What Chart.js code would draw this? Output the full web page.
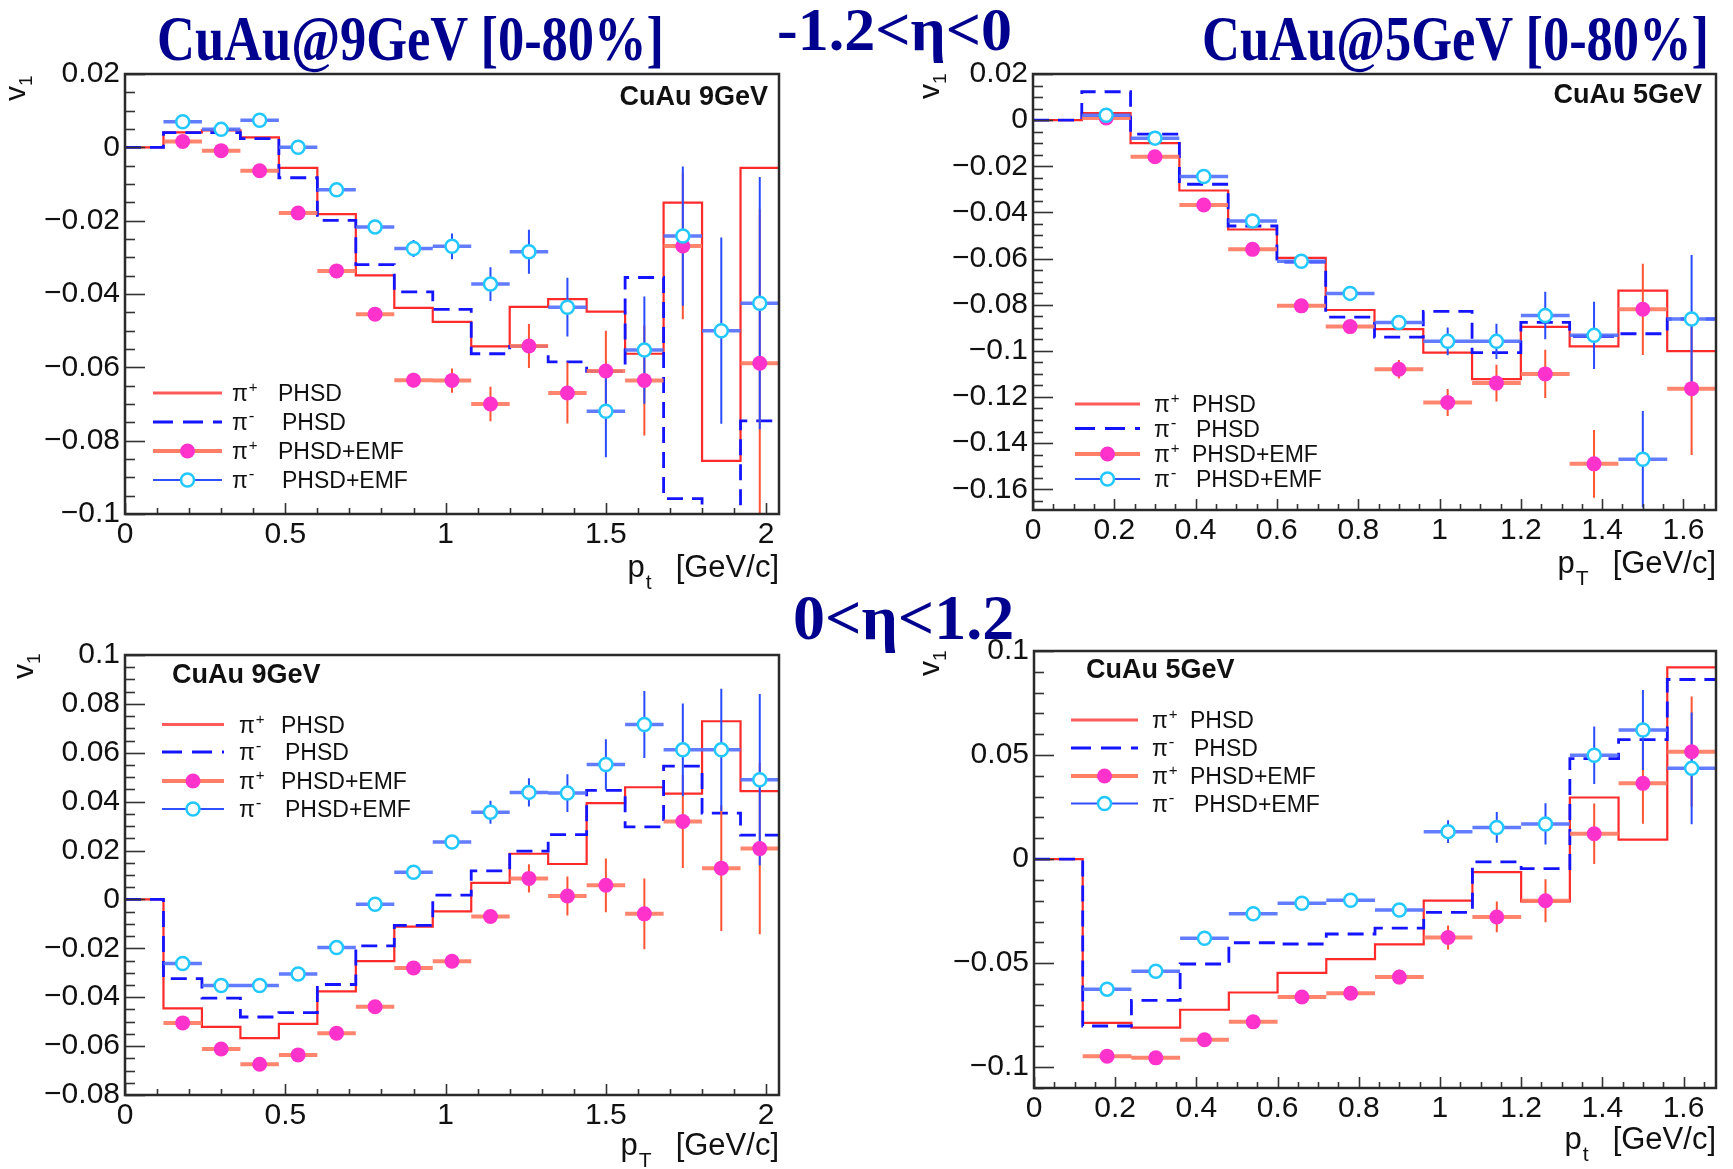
<!DOCTYPE html>
<html>
<head>
<meta charset="utf-8">
<script src="https://cdn.jsdelivr.net/npm/chart.js@4.4.1/dist/chart.umd.min.js"></script>
<style>
  html, body { margin: 0; padding: 0; background: #fff; }
  body { width: 1733px; height: 1169px; position: relative; overflow: hidden;
         font-family: "Liberation Sans", Arial, sans-serif; color: #111; }
  canvas.panel { position: absolute; }
  .title { position: absolute; font-family: "Liberation Serif", "Times New Roman", serif;
           font-weight: bold; color: #00008f; white-space: nowrap; line-height: 1;
           transform-origin: 0 0; z-index: 5; }
  .vlab { position: absolute; font-size: 30px; line-height: 1; white-space: nowrap;
          transform-origin: 0 0; transform: rotate(-90deg); z-index: 5; }
  .vlab .sub { font-size: 19px; position: relative; top: 7px; }
  .xlab { position: absolute; font-size: 31px; line-height: 1; white-space: nowrap; z-index: 5; }
  .xlab .sub { font-size: 21px; position: relative; top: 12px; margin-left: 1px; }
  .xlab .unit { margin-left: 24px; }
  .tag { position: absolute; font-weight: bold; font-size: 27px; line-height: 1;
         white-space: nowrap; z-index: 5; }
</style>
</head>
<body>

<canvas id="bwd9" class="panel"></canvas>
<canvas id="bwd5" class="panel"></canvas>
<canvas id="fwd9" class="panel"></canvas>
<canvas id="fwd5" class="panel"></canvas>

<div class="title" style="left:157px; top:7px; font-size:64px; transform:scaleX(0.82);">CuAu@9GeV [0-80%]</div>
<div class="title" style="left:777px; top:-2px; font-size:62px;">-1.2&lt;η&lt;0</div>
<div class="title" style="left:1202px; top:7px; font-size:64px; transform:scaleX(0.82);">CuAu@5GeV [0-80%]</div>
<div class="title" style="left:793px; top:586px; font-size:64px;">0&lt;η&lt;1.2</div>

<div class="vlab" style="left:0px; top:101px;">v<span class="sub">1</span></div>
<div class="vlab" style="left:914px; top:99px;">v<span class="sub">1</span></div>
<div class="vlab" style="left:8px; top:679px;">v<span class="sub">1</span></div>
<div class="vlab" style="left:914px; top:676px;">v<span class="sub">1</span></div>

<div class="xlab" style="right:954px; top:551px;">p<span class="sub">t</span><span class="unit">[GeV/c]</span></div>
<div class="xlab" style="right:17px; top:547px;">p<span class="sub">T</span><span class="unit">[GeV/c]</span></div>
<div class="xlab" style="right:954px; top:1129px;">p<span class="sub">T</span><span class="unit">[GeV/c]</span></div>
<div class="xlab" style="right:17px; top:1123px;">p<span class="sub">t</span><span class="unit">[GeV/c]</span></div>

<div class="tag" style="right:965px; top:83px;">CuAu 9GeV</div>
<div class="tag" style="right:31px; top:81px;">CuAu 5GeV</div>
<div class="tag" style="left:172px; top:661px;">CuAu 9GeV</div>
<div class="tag" style="left:1086px; top:656px;">CuAu 5GeV</div>

<script>
// ---- pT binning (GeV/c) ----
const ptEdges9 = [0, 0.12, 0.24, 0.36, 0.48, 0.60, 0.72, 0.84, 0.96, 1.08, 1.20, 1.32, 1.44, 1.56, 1.68, 1.80, 1.92, 2.04];
const ptEdges5 = [0, 0.12, 0.24, 0.36, 0.48, 0.60, 0.72, 0.84, 0.96, 1.08, 1.20, 1.32, 1.44, 1.56, 1.68];
const ptCenters9 = [0.18, 0.30, 0.42, 0.54, 0.66, 0.78, 0.90, 1.02, 1.14, 1.26, 1.38, 1.50, 1.62, 1.74, 1.86, 1.98];
const ptCenters5 = [0.18, 0.30, 0.42, 0.54, 0.66, 0.78, 0.90, 1.02, 1.14, 1.26, 1.38, 1.50, 1.62];
const ptHalfBin = 0.06;

// ---- tick labels ----
const xTicks9 = [0, 0.5, 1, 1.5, 2];
const xTicks5 = [0, 0.2, 0.4, 0.6, 0.8, 1, 1.2, 1.4, 1.6];
const yTicksBwd9 = [-0.1, -0.08, -0.06, -0.04, -0.02, 0, 0.02];
const yTicksBwd5 = [-0.16, -0.14, -0.12, -0.1, -0.08, -0.06, -0.04, -0.02, 0, 0.02];
const yTicksFwd9 = [-0.08, -0.06, -0.04, -0.02, 0, 0.02, 0.04, 0.06, 0.08, 0.1];
const yTicksFwd5 = [-0.1, -0.05, 0, 0.05, 0.1];

// ---- CuAu 9 GeV, -1.2 < eta < 0 ----
const bwd9PipPhsd = [0, 0.0041, 0.0046, 0.0027, -0.0056, -0.0182, -0.0349, -0.0438, -0.0476, -0.0543, -0.0435, -0.0414, -0.0448, -0.0563, -0.0151, -0.0855, -0.0056];
const bwd9PimPhsd = [0, 0.0040, 0.0040, 0.0024, -0.0083, -0.0199, -0.0320, -0.0394, -0.0442, -0.0563, -0.0543, -0.0585, -0.0611, -0.0355, -0.0958, -0.1003, -0.0746];
const bwd9PipEmf = [0.0016, -0.0009, -0.0064, -0.0179, -0.0337, -0.0455, -0.0635, -0.0636, -0.0700, -0.0542, -0.0670, -0.0610, -0.0636, -0.0269, null, -0.0589];
const bwd9PipEmfErr = [0.0006, 0.0006, 0.0008, 0.0010, 0.0012, 0.0015, 0.0020, 0.0033, 0.0047, 0.0060, 0.0083, 0.0110, 0.0150, 0.0200, null, 0.0420];
const bwd9PimEmf = [0.0070, 0.0049, 0.0074, 0.0000, -0.0116, -0.0217, -0.0276, -0.0270, -0.0373, -0.0285, -0.0436, -0.0720, -0.0553, -0.0242, -0.0500, -0.0425];
const bwd9PimEmfErr = [0.0006, 0.0006, 0.0008, 0.0010, 0.0012, 0.0015, 0.0023, 0.0035, 0.0046, 0.0060, 0.0080, 0.0125, 0.0146, 0.0190, 0.0254, 0.0344];

// ---- CuAu 5 GeV, -1.2 < eta < 0 ----
const bwd5PipPhsd = [0, 0.0030, -0.0100, -0.0305, -0.0474, -0.0597, -0.0823, -0.0906, -0.1008, -0.1123, -0.0896, -0.0981, -0.0739, -0.1001];
const bwd5PimPhsd = [0, 0.0123, -0.0061, -0.0278, -0.0459, -0.0615, -0.0854, -0.0941, -0.0829, -0.1008, -0.0877, -0.0937, -0.0926, -0.0862];
const bwd5PipEmf = [0.0009, -0.0159, -0.0368, -0.0560, -0.0805, -0.0895, -0.1080, -0.1224, -0.1140, -0.1100, -0.1490, -0.0820, -0.1164];
const bwd5PipEmfErr = [0.0010, 0.0010, 0.0012, 0.0014, 0.0018, 0.0025, 0.0040, 0.0058, 0.0080, 0.0105, 0.0147, 0.0198, 0.0288];
const bwd5PimEmf = [0.0021, -0.0078, -0.0244, -0.0437, -0.0612, -0.0751, -0.0877, -0.0959, -0.0959, -0.0847, -0.0933, -0.1470, -0.0862];
const bwd5PimEmfErr = [0.0010, 0.0010, 0.0012, 0.0014, 0.0018, 0.0025, 0.0030, 0.0060, 0.0076, 0.0103, 0.0146, 0.0209, 0.0277];

// ---- CuAu 9 GeV, 0 < eta < 1.2 ----
const fwd9PipPhsd = [0, -0.0446, -0.0521, -0.0567, -0.0509, -0.0376, -0.0252, -0.0111, -0.0049, 0.0068, 0.0187, 0.0145, 0.0394, 0.0459, 0.0433, 0.0729, 0.0443];
const fwd9PimPhsd = [0, -0.0324, -0.0404, -0.0481, -0.0463, -0.0348, -0.0190, -0.0106, 0.0018, 0.0117, 0.0198, 0.0265, 0.0446, 0.0297, 0.0545, 0.0353, 0.0263];
const fwd9PipEmf = [-0.0505, -0.0612, -0.0674, -0.0636, -0.0547, -0.0439, -0.0280, -0.0253, -0.0070, 0.0086, 0.0014, 0.0058, -0.0059, 0.0319, 0.0128, 0.0208];
const fwd9PipEmfErr = [0.0008, 0.0008, 0.0010, 0.0010, 0.0012, 0.0013, 0.0015, 0.0018, 0.0023, 0.0058, 0.0080, 0.0110, 0.0145, 0.0190, 0.0257, 0.0350];
const fwd9PimEmf = [-0.0262, -0.0352, -0.0352, -0.0305, -0.0197, -0.0020, 0.0111, 0.0235, 0.0357, 0.0438, 0.0435, 0.0552, 0.0716, 0.0612, 0.0612, 0.0490];
const fwd9PimEmfErr = [0.0008, 0.0008, 0.0010, 0.0010, 0.0012, 0.0013, 0.0015, 0.0018, 0.0047, 0.0058, 0.0077, 0.0103, 0.0137, 0.0190, 0.0250, 0.0350];

// ---- CuAu 5 GeV, 0 < eta < 1.2 ----
const fwd5PipPhsd = [0, -0.0787, -0.0810, -0.0724, -0.0641, -0.0547, -0.0481, -0.0410, -0.0200, -0.0063, -0.0203, 0.0296, 0.0094, 0.0921];
const fwd5PimPhsd = [0, -0.0802, -0.0679, -0.0504, -0.0402, -0.0408, -0.0360, -0.0332, -0.0256, -0.0013, -0.0046, 0.0483, 0.0574, 0.0863];
const fwd5PipEmf = [-0.0947, -0.0955, -0.0868, -0.0782, -0.0663, -0.0645, -0.0567, -0.0377, -0.0278, -0.0200, 0.0122, 0.0364, 0.0516];
const fwd5PipEmfErr = [0.0015, 0.0015, 0.0018, 0.0020, 0.0022, 0.0025, 0.0035, 0.0058, 0.0074, 0.0103, 0.0145, 0.0194, 0.0265];
const fwd5PimEmf = [-0.0625, -0.0539, -0.0380, -0.0263, -0.0212, -0.0198, -0.0245, 0.0132, 0.0152, 0.0169, 0.0499, 0.0620, 0.0436];
const fwd5PimEmfErr = [0.0015, 0.0015, 0.0018, 0.0020, 0.0022, 0.0025, 0.0030, 0.0055, 0.0074, 0.0099, 0.0138, 0.0192, 0.0269];

// ---- styles ----
const FONT = '"Liberation Sans", Arial, sans-serif';
const STYLE = {
  pipLine: '#ff2a2a',
  pimLine: '#1414ff',
  pipMarker: '#ff33cc',
  pipXErr: 'rgba(255,120,95,0.9)',
  pipYErr: '#ff5533',
  pimMarker: '#22c8ff',
  pimXErr: 'rgba(80,110,255,0.9)',
  pimYErr: '#2a4cff',
  legendPipLine: '#ff5a5a',
  legendPipEmfLine: '#ff7f66',
  legendPimEmfLine: '#3050ff'
};

// ---- panel layout (page coordinates) ----
const panels = [
  { id: 'bwd9', canvas: [0, 30, 800, 540], area: [125, 74, 779, 514],
    x: { max: 2.04, ticks: xTicks9, minor: 0.1 }, y: { min: -0.1, max: 0.02, ticks: yTicksBwd9, minor: 0.005 },
    edges: ptEdges9, centers: ptCenters9,
    pip: bwd9PipPhsd, pim: bwd9PimPhsd, pipE: bwd9PipEmf, pipErr: bwd9PipEmfErr, pimE: bwd9PimEmf, pimErr: bwd9PimEmfErr,
    legend: { rows: [393, 422, 451, 480], sample: [153, 222], pi: 232, text: 278 } },
  { id: 'bwd5', canvas: [880, 30, 853, 540], area: [1033, 74, 1716, 510],
    x: { max: 1.68, ticks: xTicks5, minor: 0.05 }, y: { min: -0.169, max: 0.02, ticks: yTicksBwd5, minor: 0.005 },
    edges: ptEdges5, centers: ptCenters5,
    pip: bwd5PipPhsd, pim: bwd5PimPhsd, pipE: bwd5PipEmf, pipErr: bwd5PipEmfErr, pimE: bwd5PimEmf, pimErr: bwd5PimEmfErr,
    legend: { rows: [404, 428.5, 454, 479], sample: [1075, 1140], pi: 1154, text: 1192 } },
  { id: 'fwd9', canvas: [0, 610, 800, 559], area: [125, 655, 779, 1095],
    x: { max: 2.04, ticks: xTicks9, minor: 0.1 }, y: { min: -0.08, max: 0.1, ticks: yTicksFwd9, minor: 0.005 },
    edges: ptEdges9, centers: ptCenters9,
    pip: fwd9PipPhsd, pim: fwd9PimPhsd, pipE: fwd9PipEmf, pipErr: fwd9PipEmfErr, pimE: fwd9PimEmf, pimErr: fwd9PimEmfErr,
    legend: { rows: [724.5, 752, 781, 809], sample: [162, 224], pi: 239, text: 281 } },
  { id: 'fwd5', canvas: [880, 610, 853, 559], area: [1034, 651, 1716, 1088],
    x: { max: 1.68, ticks: xTicks5, minor: 0.05 }, y: { min: -0.11, max: 0.1, ticks: yTicksFwd5, minor: 0.01 },
    edges: ptEdges5, centers: ptCenters5,
    pip: fwd5PipPhsd, pim: fwd5PimPhsd, pipE: fwd5PipEmf, pipErr: fwd5PipEmfErr, pimE: fwd5PimEmf, pimErr: fwd5PimEmfErr,
    legend: { rows: [720, 748, 776, 803.5], sample: [1071, 1138], pi: 1152, text: 1190 } }
];

// ---- helpers ----
function fmtTick(v) {
  const r = Math.round(v * 1000) / 1000;
  if (r === 0) return '0';
  return String(r).replace('-', '\u2212');
}
function stepPoints(edges, vals) {
  const pts = vals.map((v, i) => ({ x: edges[i], y: v }));
  pts.push({ x: edges[vals.length], y: vals[vals.length - 1] });
  return pts;
}
function markerPoints(centers, vals) {
  return centers.map((c, i) => ({ x: c, y: vals[i] }));
}
function xErrPoints(centers, vals) {
  const pts = [];
  centers.forEach((c, i) => {
    if (vals[i] == null) return;
    pts.push({ x: c - ptHalfBin, y: vals[i] }, { x: c + ptHalfBin, y: vals[i] }, { x: c, y: null });
  });
  return pts;
}
function yErrPoints(centers, vals, errs) {
  const pts = [];
  centers.forEach((c, i) => {
    if (vals[i] == null) return;
    pts.push({ x: c, y: vals[i] - errs[i] }, { x: c, y: vals[i] + errs[i] }, { x: c, y: null });
  });
  return pts;
}
function gridValues(min, max, step) {
  const out = [];
  const n0 = Math.ceil(min / step - 1e-6), n1 = Math.floor(max / step + 1e-6);
  for (let n = n0; n <= n1; n++) out.push(n * step);
  return out;
}
function isMajor(v, majors) { return majors.some(m => Math.abs(m - v) < 1e-6); }

// Frame and inward ticks, drawn on top of the data
const rootAxes = {
  id: 'rootAxes',
  afterDatasetsDraw(chart, args, opts) {
    const { ctx, chartArea: a, scales } = chart;
    const xs = scales.x, ys = scales.y;
    ctx.save();
    ctx.strokeStyle = '#333';
    ctx.lineWidth = 1.6;
    gridValues(ys.min, ys.max, opts.yMinor).forEach(v => {
      const p = Math.round(ys.getPixelForValue(v)) + 0.5;
      const len = isMajor(v, opts.yMajor) ? 20 : 10;
      ctx.beginPath(); ctx.moveTo(a.left, p); ctx.lineTo(a.left + len, p); ctx.stroke();
    });
    gridValues(xs.min, xs.max, opts.xMinor).forEach(v => {
      const p = Math.round(xs.getPixelForValue(v)) + 0.5;
      const len = isMajor(v, opts.xMajor) ? 11 : 6;
      ctx.beginPath(); ctx.moveTo(p, a.bottom); ctx.lineTo(p, a.bottom - len); ctx.stroke();
    });
    ctx.strokeStyle = '#2a2a2a';
    ctx.lineWidth = 2.5;
    ctx.strokeRect(a.left, a.top, a.right - a.left, a.bottom - a.top);
    ctx.restore();
  }
};

// Legend in the style of a TLegend without a box
const rootLegend = {
  id: 'rootLegend',
  afterDraw(chart, args, opts) {
    const ctx = chart.ctx;
    const L = opts.layout;
    const entries = [
      { sign: '+', text: 'PHSD', kind: 'pipLine' },
      { sign: '-', text: 'PHSD', kind: 'pimLine' },
      { sign: '+', text: 'PHSD+EMF', kind: 'pipEmf' },
      { sign: '-', text: 'PHSD+EMF', kind: 'pimEmf' }
    ];
    ctx.save();
    entries.forEach((e, i) => {
      const y = L.rows[i];
      const x0 = L.sample[0], x1 = L.sample[1], xm = (x0 + x1) / 2;
      ctx.setLineDash([]);
      if (e.kind === 'pipLine') {
        ctx.strokeStyle = STYLE.legendPipLine; ctx.lineWidth = 3;
        ctx.beginPath(); ctx.moveTo(x0, y); ctx.lineTo(x1, y); ctx.stroke();
      } else if (e.kind === 'pimLine') {
        ctx.strokeStyle = STYLE.pimLine; ctx.lineWidth = 3; ctx.setLineDash([20, 10]);
        ctx.beginPath(); ctx.moveTo(x0, y); ctx.lineTo(x1, y); ctx.stroke();
      } else if (e.kind === 'pipEmf') {
        ctx.strokeStyle = STYLE.legendPipEmfLine; ctx.lineWidth = 4;
        ctx.beginPath(); ctx.moveTo(x0, y); ctx.lineTo(x1, y); ctx.stroke();
        ctx.fillStyle = STYLE.pipMarker;
        ctx.beginPath(); ctx.arc(xm, y, 7.5, 0, Math.PI * 2); ctx.fill();
      } else {
        ctx.strokeStyle = STYLE.legendPimEmfLine; ctx.lineWidth = 2;
        ctx.beginPath(); ctx.moveTo(x0, y); ctx.lineTo(x1, y); ctx.stroke();
        ctx.fillStyle = '#fff'; ctx.strokeStyle = STYLE.pimMarker; ctx.lineWidth = 2.5;
        ctx.beginPath(); ctx.arc(xm, y, 6.5, 0, Math.PI * 2); ctx.fill(); ctx.stroke();
      }
      const base = y + 8;
      ctx.fillStyle = '#111';
      ctx.font = '23px ' + FONT;
      ctx.textBaseline = 'alphabetic';
      ctx.textAlign = 'left';
      ctx.fillText('\u03c0', L.pi, base);
      const w = ctx.measureText('\u03c0').width;
      ctx.font = (e.sign === '+' ? '15px ' : '17px ') + FONT;
      ctx.fillText(e.sign, L.pi + w + 1, base - 9);
      ctx.font = '23px ' + FONT;
      ctx.fillText(e.text, L.text + (e.sign === '-' ? 4 : 0), base);
    });
    ctx.restore();
  }
};

function buildPanel(p) {
  const [cx, cy, cw, ch] = p.canvas;
  const [aL, aT, aR, aB] = p.area;
  const el = document.getElementById(p.id);
  el.width = cw; el.height = ch;
  el.style.left = cx + 'px'; el.style.top = cy + 'px';
  el.style.width = cw + 'px'; el.style.height = ch + 'px';

  const yAxisWidth = aL - cx;
  const xAxisHeight = cy + ch - aB;
  const toLocal = {
    rows: p.legend.rows.map(r => r - cy),
    sample: p.legend.sample.map(s => s - cx),
    pi: p.legend.pi - cx,
    text: p.legend.text - cx
  };

  const lineBase = { type: 'line', pointRadius: 0, fill: false, tension: 0, spanGaps: false };
  const datasets = [
    // Markers (top)
    { type: 'scatter', label: 'pim emf', data: markerPoints(p.centers, p.pimE), order: 0,
      pointRadius: 6.5, pointBorderWidth: 2.5, pointBackgroundColor: '#fff', pointBorderColor: STYLE.pimMarker },
    { type: 'scatter', label: 'pip emf', data: markerPoints(p.centers, p.pipE), order: 1,
      pointRadius: 7.5, pointBorderWidth: 0, pointBackgroundColor: STYLE.pipMarker, pointBorderColor: STYLE.pipMarker },
    // Error bars
    Object.assign({ label: 'pim ey', data: yErrPoints(p.centers, p.pimE, p.pimErr), order: 2,
      borderColor: STYLE.pimYErr, borderWidth: 2 }, lineBase),
    Object.assign({ label: 'pim ex', data: xErrPoints(p.centers, p.pimE), order: 3,
      borderColor: STYLE.pimXErr, borderWidth: 3.5 }, lineBase),
    Object.assign({ label: 'pip ey', data: yErrPoints(p.centers, p.pipE, p.pipErr), order: 4,
      borderColor: STYLE.pipYErr, borderWidth: 2 }, lineBase),
    Object.assign({ label: 'pip ex', data: xErrPoints(p.centers, p.pipE), order: 5,
      borderColor: STYLE.pipXErr, borderWidth: 4 }, lineBase),
    // Histograms
    Object.assign({ label: 'pim phsd', data: stepPoints(p.edges, p.pim), order: 6, stepped: 'before',
      borderColor: STYLE.pimLine, borderWidth: 2.8, borderDash: [16, 9] }, lineBase),
    Object.assign({ label: 'pip phsd', data: stepPoints(p.edges, p.pip), order: 7, stepped: 'before',
      borderColor: STYLE.pipLine, borderWidth: 2.2 }, lineBase)
  ];

  const tickFont = { family: FONT, size: 30 };
  new Chart(el, {
    type: 'line',
    data: { datasets },
    options: {
      responsive: false,
      animation: false,
      devicePixelRatio: 1,
      layout: { padding: { left: 0, top: aT - cy, right: cx + cw - aR, bottom: 0 } },
      plugins: {
        legend: { display: false },
        tooltip: { enabled: false },
        rootAxes: { xMajor: p.x.ticks, xMinor: p.x.minor, yMajor: p.y.ticks, yMinor: p.y.minor },
        rootLegend: { layout: toLocal }
      },
      scales: {
        x: {
          type: 'linear', min: 0, max: p.x.max, bounds: 'data',
          grid: { display: false, drawTicks: false }, border: { display: false },
          ticks: { font: tickFont, color: '#111', padding: 3, maxRotation: 0, autoSkip: false, callback: fmtTick },
          afterBuildTicks: s => { s.ticks = p.x.ticks.map(v => ({ value: v })); },
          afterFit: s => { s.height = xAxisHeight; }
        },
        y: {
          type: 'linear', min: p.y.min, max: p.y.max, bounds: 'data',
          grid: { display: false, drawTicks: false }, border: { display: false },
          ticks: { font: tickFont, color: '#111', padding: 5, autoSkip: false, callback: fmtTick },
          afterBuildTicks: s => { s.ticks = p.y.ticks.map(v => ({ value: v })); },
          afterFit: s => { s.width = yAxisWidth; }
        }
      }
    },
    plugins: [rootAxes, rootLegend]
  });
}

panels.forEach(buildPanel);
</script>
</body>
</html>
